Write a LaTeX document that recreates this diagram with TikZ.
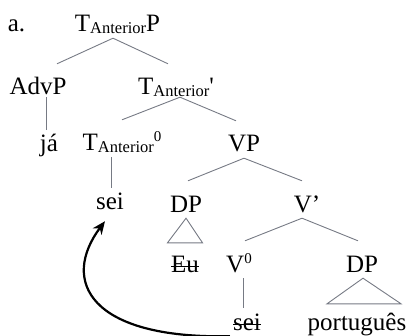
\documentclass[tikz,border=0pt]{standalone}
\usepackage{fontspec}
\setmainfont{Liberation Serif}
\usetikzlibrary{arrows.meta}
\newsavebox{\strikebox}
\newcommand{\struck}[1]{\sbox{\strikebox}{#1}\rlap{\rule[5.5pt]{\wd\strikebox}{1pt}}\usebox{\strikebox}}
\newcommand{\anter}{\raisebox{-1.5pt}{\fontsize{16.5pt}{18pt}\selectfont Anterior}}
\newcommand{\zerobar}{\raisebox{9pt}{\fontsize{15pt}{16pt}\selectfont 0}}
\definecolor{branchgray}{RGB}{118,122,132}
\tikzstyle{cat} = [anchor=base, inner sep=0pt, text height=31pt, text depth=6pt]
\tikzstyle{leaf} = [anchor=base, inner sep=0pt, text height=22pt, text depth=6pt]
\tikzstyle{twig} = [draw=branchgray, line width=0.9pt]
\tikzstyle{move} = [draw=black, line width=2.2pt, -{Stealth[length=13pt,width=11pt]}]

\begin{document}
\begin{tikzpicture}[x=1pt, y=-1pt, font=\fontsize{25pt}{30pt}\selectfont]
   \useasboundingbox (0,0) rectangle (411,336);
   % nodes
   \node[leaf] (lbl)   at (16.5,32)  {a.};
   \node[cat]  (tp)    at (117.5,32) {T\anter P};
   \node[cat, text depth=2pt] (advp) at (38,95)  {AdvP};
   \node[cat, text depth=2pt] (tbar) at (176,95) {T\anter\textquotesingle};
   \node[leaf] (ja)    at (49,152)   {já};
   \node[cat]  (tzero) at (122,151)  {T\anter\zerobar};
   \node[cat]  (vp)    at (244,152)  {VP};
   \node[leaf] (seiT)  at (110,210)  {sei};
   \node[cat]  (dpa)   at (186,212)  {DP};
   \node[cat]  (vbar)  at (307,212)  {V’};
   \node[leaf, text height=29pt] (eu) at (185,272) {\struck{Eu}};
   \node[cat]  (vzero) at (239,272)  {V\zerobar};
   \node[cat]  (dpb)   at (362,272)  {DP};
   \node[leaf] (seiB)  at (247,330)  {\struck{sei}};
   \node[leaf, text height=26pt] (port) at (357,330) {português};

   % edges
   \draw[twig] ([xshift=-4.5pt]tp.south) -- ([xshift=19pt]advp.north);
   \draw[twig] ([xshift=-4.5pt]tp.south) -- ([xshift=-8pt]tbar.north);
   \draw[twig] ([xshift=8pt]advp.south) -- ([xshift=-3pt]ja.north);
   \draw[twig] ([xshift=4pt]tbar.south) -- (tzero.north);
   \draw[twig] ([xshift=4pt]tbar.south) -- ([xshift=-8pt]vp.north);
   \draw[twig] ([xshift=-11pt]tzero.south) -- ([xshift=1pt]seiT.north);
   \draw[twig] (vp.south) -- ([xshift=2pt]dpa.north);
   \draw[twig] (vp.south) -- ([xshift=-5pt]vbar.north);
   \draw[twig] (dpa.south) -- ([xshift=-17.5pt]eu.north) -- ([xshift=17.5pt]eu.north) -- cycle;
   \draw[twig] ([xshift=-5pt]vbar.south) -- ([xshift=6pt]vzero.north);
   \draw[twig] ([xshift=-5pt]vbar.south) -- ([xshift=-4pt]dpb.north);
   \draw[twig] ([xshift=4pt]vzero.south) -- ([xshift=-4pt]seiB.north);
   \draw[twig] ([xshift=1pt]dpb.south) -- ([xshift=-30pt]port.north) -- ([xshift=44pt]port.north) -- cycle;
   \draw[move] ([xshift=-17pt]seiB.south) .. controls +(-140,3) and +(-45,60) .. ([xshift=-5pt,yshift=-5pt]seiT.south);
\end{tikzpicture}
\end{document}
